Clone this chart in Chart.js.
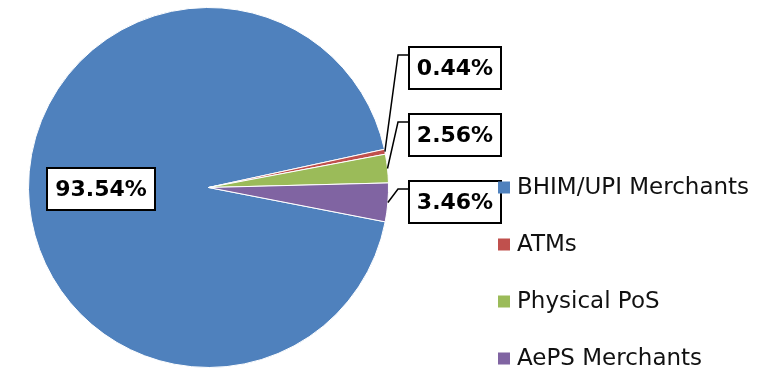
<!DOCTYPE html>
<html>
<head>
<meta charset="utf-8">
<script src="https://cdn.jsdelivr.net/npm/chart.js@4.4.1/dist/chart.umd.min.js"></script>
<style>
  html, body { margin: 0; padding: 0; background: #fff; }
  #wrap { width: 777px; height: 372px; }
</style>
</head>
<body>
<div id="wrap"><canvas id="pie" width="777" height="372"></canvas></div>
<script>
const channels = ['BHIM/UPI Merchants', 'ATMs', 'Physical PoS', 'AePS Merchants'];
const shares   = [93.54, 0.44, 2.56, 3.46];
const colors   = ['#4F81BD', '#C0504D', '#9BBB59', '#8064A2'];

const LEGEND_FONT = '23px "DejaVu Sans", sans-serif';
const LABEL_FONT  = 'bold 22px "DejaVu Sans", sans-serif';

function drawBox(ctx, text, x, y, w, h) {
  ctx.fillStyle = '#fff';
  ctx.fillRect(x, y, w, h);
  ctx.lineWidth = 2;
  ctx.strokeStyle = '#000';
  ctx.strokeRect(x, y, w, h);
  ctx.fillStyle = '#000';
  ctx.fillText(text, x + w / 2, y + h / 2 + 1);
}

// percentage callouts: big slice inside, small slices boxed on the right with leaders
const pctLabels = {
  id: 'pctLabels',
  afterDatasetsDraw(chart) {
    const ctx = chart.ctx;
    const arcs = chart.getDatasetMeta(0).data;
    const boxH = 42, gap = 25;
    const outside = [];
    ctx.save();
    ctx.font = LABEL_FONT;
    ctx.textAlign = 'center';
    ctx.textBaseline = 'middle';
    arcs.forEach((arc, i) => {
      const { x, y, startAngle, endAngle, outerRadius } =
        arc.getProps(['x', 'y', 'startAngle', 'endAngle', 'outerRadius'], true);
      const mid = (startAngle + endAngle) / 2;
      const text = shares[i].toFixed(2) + '%';
      const w = Math.round(ctx.measureText(text).width) + 16;
      if (i === 0) {
        const cx = x + Math.cos(mid) * outerRadius * 0.6;
        const cy = y + Math.sin(mid) * outerRadius * 0.6;
        drawBox(ctx, text, Math.round(cx - w / 2), Math.round(cy - boxH / 2), w, boxH);
      } else {
        const ex = x + Math.cos(mid) * outerRadius;
        const ey = y + Math.sin(mid) * outerRadius;
        outside.push({ text, w, ex, ey, left: Math.round(x + outerRadius + 20), cy: ey });
      }
    });
    // keep the lowest box by its slice, push the others up so they don't overlap
    outside.sort((a, b) => a.cy - b.cy);
    for (let k = outside.length - 2; k >= 0; k--) {
      outside[k].cy = Math.min(outside[k].cy, outside[k + 1].cy - boxH - gap);
    }
    outside.forEach(o => {
      const top = Math.round(o.cy - boxH / 2);
      const ay = top + 8;
      ctx.beginPath();
      ctx.lineWidth = 1.5;
      ctx.strokeStyle = '#000';
      ctx.moveTo(o.ex, o.ey);
      ctx.lineTo(o.left - 11, ay);
      ctx.lineTo(o.left, ay);
      ctx.stroke();
      drawBox(ctx, o.text, o.left, top, o.w, boxH);
    });
    ctx.restore();
  }
};

// legend column to the right of the callouts
const sideLegend = {
  id: 'sideLegend',
  afterDraw(chart) {
    const ctx = chart.ctx;
    const area = chart.chartArea;
    const x0 = 498, step = 57;
    const y0 = (area.top + area.bottom) / 2;
    ctx.save();
    ctx.font = LEGEND_FONT;
    ctx.textAlign = 'left';
    ctx.textBaseline = 'middle';
    chart.data.labels.forEach((lbl, i) => {
      const y = y0 + i * step;
      ctx.fillStyle = colors[i];
      ctx.fillRect(x0, y - 6, 12, 12);
      ctx.fillStyle = '#111';
      ctx.fillText(lbl, x0 + 19, y + 1);
    });
    ctx.restore();
  }
};

new Chart(document.getElementById('pie'), {
  type: 'pie',
  data: {
    labels: channels,
    datasets: [{
      data: shares,
      backgroundColor: colors,
      borderColor: '#fff',
      borderWidth: 1,
    }],
  },
  options: {
    responsive: false,
    devicePixelRatio: 1,
    animation: false,
    rotation: 101,
    layout: { padding: { left: 28, top: 7, right: 388, bottom: 4 } },
    plugins: { legend: { display: false }, tooltip: { enabled: false } },
  },
  plugins: [pctLabels, sideLegend],
});
</script>
</body>
</html>
